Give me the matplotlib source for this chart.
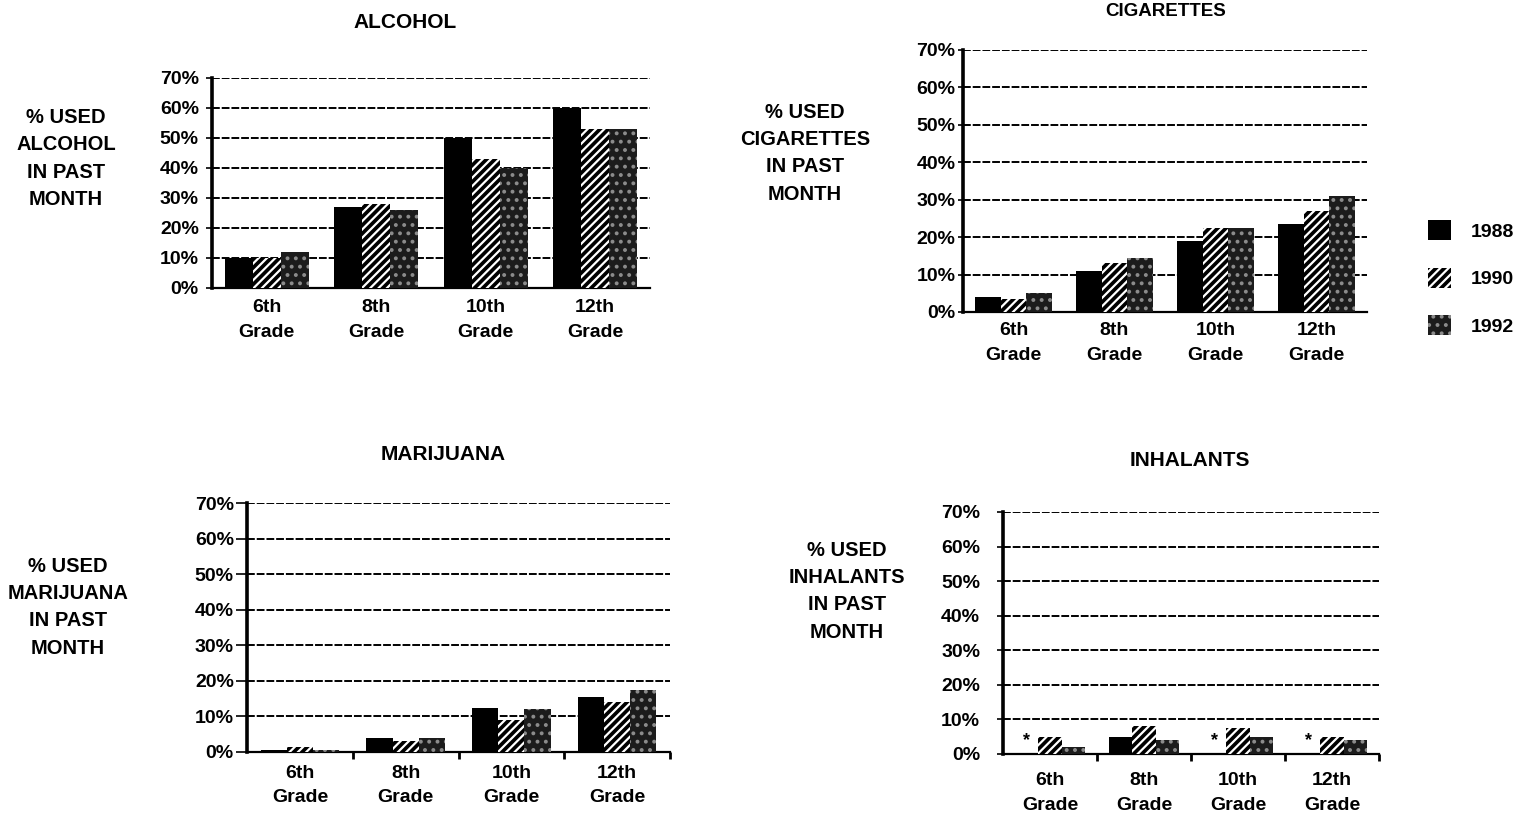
import numpy as np
import matplotlib
matplotlib.use('Agg')
import matplotlib.pyplot as plt
from matplotlib.patches import Patch

### data ###
grades = ['6th\nGrade', '8th\nGrade', '10th\nGrade', '12th\nGrade']
years = ['1988', '1990', '1992']

alcohol_1988 = [10, 27, 50, 60]
alcohol_1990 = [10, 28, 43, 53]
alcohol_1992 = [12, 26, 40, 53]

cigarettes_1988 = [4, 11, 19, 23.5]
cigarettes_1990 = [3.5, 13, 22.5, 27]
cigarettes_1992 = [5, 14.5, 22.5, 31]

marijuana_1988 = [0.7, 4, 12.5, 15.5]
marijuana_1990 = [1.4, 3, 9, 14]
marijuana_1992 = [0.7, 4, 12, 17.5]

# 1988 inhalant use was not asked in most grades (shown as *)
inhalants_1988 = [np.nan, 5, np.nan, np.nan]
inhalants_1990 = [5, 8, 7.5, 5]
inhalants_1992 = [2, 4, 5, 4]

yticks = [0, 10, 20, 30, 40, 50, 60, 70]

### style ###
plt.rcParams['font.family'] = ['Liberation Sans', 'DejaVu Sans']
plt.rcParams['font.weight'] = 'bold'
plt.rcParams['hatch.linewidth'] = 1.6

bar_styles = [
    dict(facecolor='black', edgecolor='black', linewidth=0),
    dict(facecolor='black', edgecolor='white', hatch='////', linewidth=0),
    dict(facecolor='#1c1c1c', edgecolor='#8c8c8c', hatch='..', linewidth=0),
]

W, H = 1518, 818
fig = plt.figure(figsize=(W / 100, H / 100), dpi=100)


def px_axes(left, top, right, bottom):
    return fig.add_axes([left / W, 1 - bottom / H, (right - left) / W, (bottom - top) / H])


def draw_panel(ax, series, group_frac, bottom_ticks, label_pad):
    n = len(grades)
    x = np.arange(n)
    bw = group_frac / 3
    for i, (vals, st) in enumerate(zip(series, bar_styles)):
        h = np.nan_to_num(np.array(vals, dtype=float))
        ax.bar(x + (i - 1) * bw, h, width=bw, zorder=3, **st)
    ax.set_xlim(-0.5, n - 0.5)
    ax.set_ylim(0, 70)
    ax.set_yticks(yticks)
    ax.set_yticklabels([f'{v}%' for v in yticks], fontsize=14, fontweight='bold')
    ax.set_xticks(x)
    ax.set_xticklabels(grades, fontsize=14, fontweight='bold', linespacing=1.6)
    ax.tick_params(axis='x', length=0, pad=label_pad)
    if bottom_ticks:
        ax.set_xticks(np.arange(n) + 0.5, minor=True)
        ax.tick_params(axis='x', which='minor', length=5, width=2)
    ax.yaxis.grid(True, color='black', linestyle=(0, (4, 1)), linewidth=1.4, zorder=0)
    ax.set_axisbelow(True)
    for s in ['top', 'right']:
        ax.spines[s].set_visible(False)
    ax.spines['left'].set_linewidth(2.6)
    ax.spines['bottom'].set_linewidth(1.6)
    return x, bw


def side_label(xc, ytop, drug):
    fig.text(xc / W, 1 - ytop / H, f'% USED\n{drug}\nIN PAST\nMONTH', ha='center', va='top',
             fontsize=14.5, fontweight='bold', linespacing=1.55)


def title(xc, yc, txt, size=15):
    fig.text(xc / W, 1 - yc / H, txt, ha='center', va='center', fontsize=size, fontweight='bold')


# alcohol
ax1 = px_axes(212, 78, 650, 288)
draw_panel(ax1, [alcohol_1988, alcohol_1990, alcohol_1992], 0.77, False, 8)
ax1.tick_params(axis='y', length=4.5, width=1.2, pad=5)
title(405, 22, 'ALCOHOL')
side_label(66, 108, 'ALCOHOL')

# cigarettes
ax2 = px_axes(963, 50, 1367, 312)
draw_panel(ax2, [cigarettes_1988, cigarettes_1990, cigarettes_1992], 0.76, False, 7)
ax2.tick_params(axis='y', length=3.5, width=1.2, pad=2)
title(1166, 12, 'CIGARETTES', size=13.5)
side_label(805, 103, 'CIGARETTES')

# marijuana
ax3 = px_axes(247, 503, 670, 752)
draw_panel(ax3, [marijuana_1988, marijuana_1990, marijuana_1992], 0.74, True, 9)
ax3.tick_params(axis='y', length=8, width=1.2, pad=1.5)
title(443, 455, 'MARIJUANA')
side_label(68, 557, 'MARIJUANA')

# inhalants
ax4 = px_axes(1003, 512, 1379, 754)
x4, bw4 = draw_panel(ax4, [inhalants_1988, inhalants_1990, inhalants_1992], 0.745, True, 13)
ax4.tick_params(axis='y', length=4.5, width=1.2, pad=12)
for xi, v in zip(x4, inhalants_1988):
    if np.isnan(v):
        ax4.text(xi - bw4, 4, '*', ha='center', va='center', fontsize=13, fontweight='bold')
title(1190, 460, 'INHALANTS')
side_label(847, 541, 'INHALANTS')

# legend
handles = [Patch(label=y, **st) for y, st in zip(years, bar_styles)]
fig.legend(handles=handles, loc='center left', bbox_to_anchor=(1410 / W, 1 - 278 / H),
           frameon=False, handlelength=1.2, handleheight=1.2,
           labelspacing=1.4, handletextpad=1.0, prop={'weight': 'bold', 'size': 14})

plt.savefig('out.png', dpi=100)
